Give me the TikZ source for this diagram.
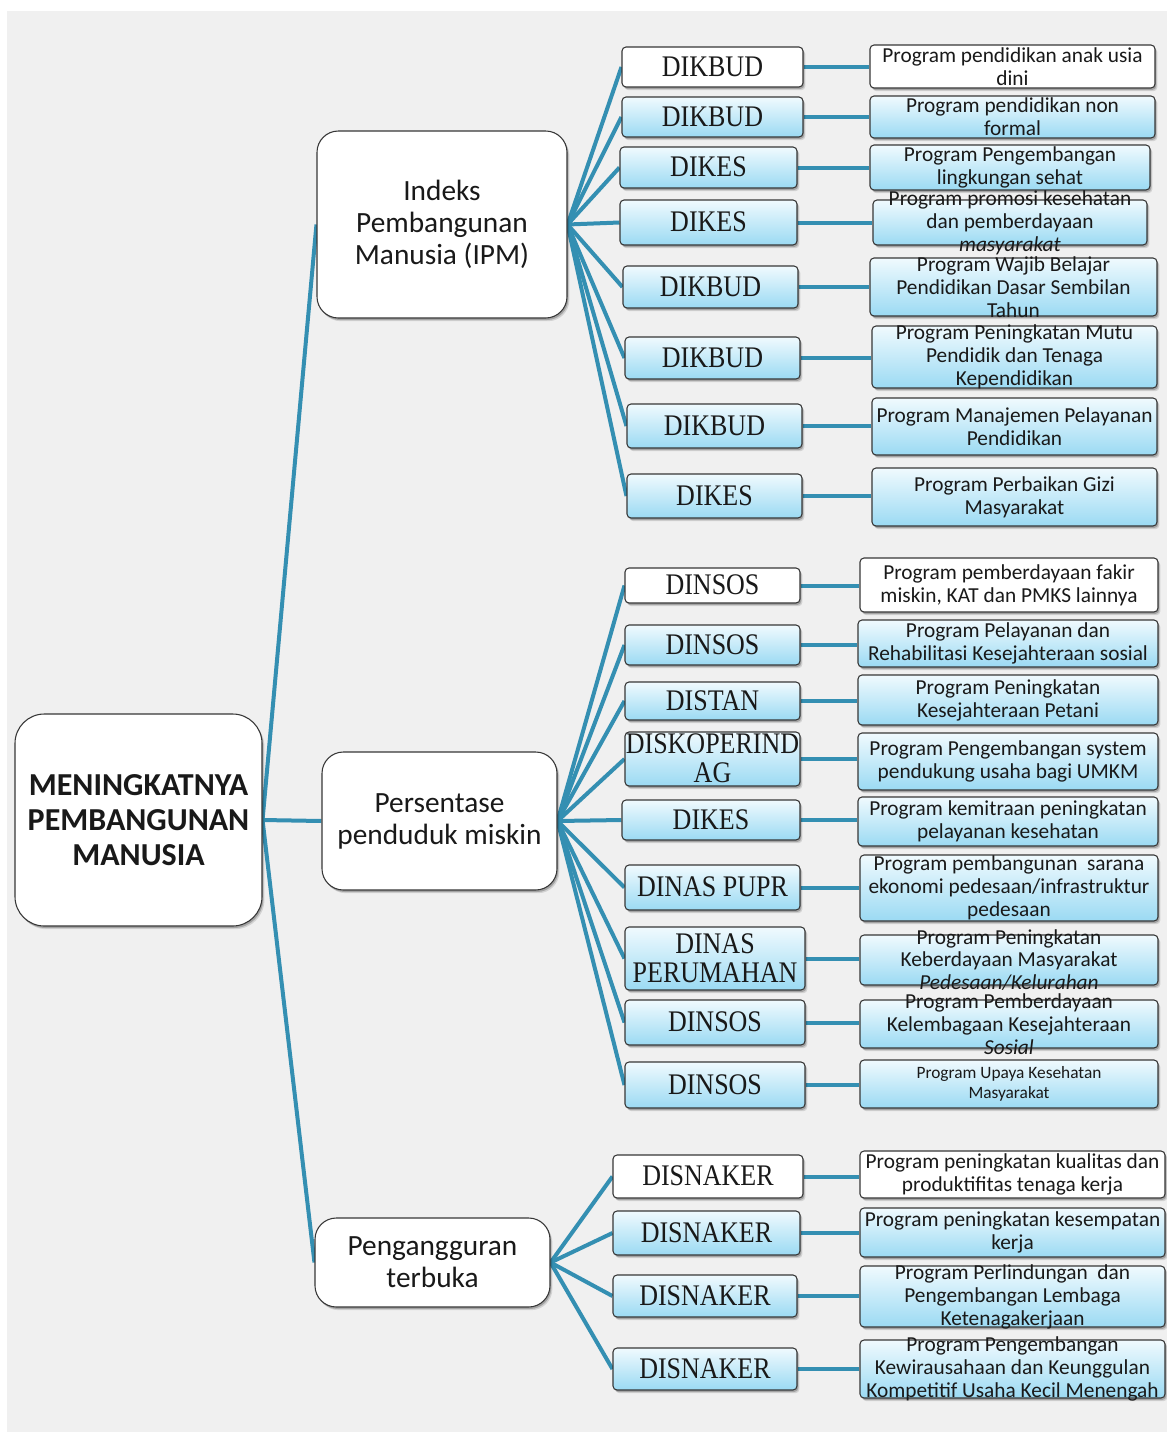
\documentclass[tikz,border=0pt]{standalone}
\usepackage{fontspec}
\usepackage{graphicx}
\setmainfont{Carlito}
\newfontfamily\agfont{Liberation Serif}
\usetikzlibrary{fit,shadows}

\definecolor{pagegray}{RGB}{240,240,240}
\definecolor{linkc}{RGB}{52,143,178}
\definecolor{edgec}{RGB}{55,55,55}
\definecolor{gtop}{RGB}{240,250,254}
\definecolor{gbot}{RGB}{155,218,243}
\definecolor{txtc}{RGB}{25,25,25}

% agency names are set in a slightly tall serif
\newcommand\ag[1]{\scalebox{1}[1.15]{\begin{tabular}{@{}c@{}}#1\end{tabular}}}

\pgfdeclarelayer{back}
\pgfdeclarelayer{links}
\pgfsetlayers{back,links,main}

\tikzset{
  conn/.style={draw=linkc, line width=3pt},
  boxbase/.style={draw=edgec, line width=0.8pt, inner sep=0pt,
    drop shadow={shadow xshift=1.8pt, shadow yshift=-2.4pt, opacity=0.12, fill=black},
    drop shadow={shadow xshift=1pt, shadow yshift=-1.5pt, opacity=0.22, fill=black}},
  bigbox/.style={boxbase, fill=white, rounded corners=16pt},
  mainbox/.style={boxbase, fill=white, rounded corners=22pt},
  bluebox/.style={boxbase, rounded corners=3pt, top color=gtop, bottom color=gbot},
  whitebox/.style={boxbase, rounded corners=3pt, fill=white},
  maintxt/.style={font=\bfseries\fontsize{24}{26}\selectfont, align=center, text=txtc},
  midtxt/.style={font=\fontsize{22}{24}\selectfont, align=center, text=txtc},
  agtxt/.style={font=\agfont\fontsize{19.5}{19}\selectfont, inner sep=0pt, yshift=-2.6pt, text=txtc},
  prtxt/.style={font=\fontsize{16}{17.2}\selectfont, align=center, text=txtc},
  smalltxt/.style={font=\fontsize{13}{15}\selectfont, align=center, text=txtc},
}

\begin{document}
\begin{tikzpicture}[x=0.75pt, y=-0.75pt]
\useasboundingbox (0,0) rectangle (1167,1439);
\begin{pgfonlayer}{back}
  \fill[white] (0,0) rectangle (1167,1439);
  \fill[pagegray] (7,11) rectangle (1167,1432);
\end{pgfonlayer}

% root and the three indicators
\node[mainbox, fit={(15,714)(262,926)},
  label={[maintxt]center:{MENINGKATNYA\\PEMBANGUNAN\\MANUSIA}}] (root) {};
\node[bigbox, fit={(317,131)(567,318)},
  label={[midtxt]center:{Indeks\\Pembangunan\\Manusia (IPM)}}] (ipm) {};
\node[bigbox, fit={(322,752)(557,890)},
  label={[midtxt]center:{Persentase\\penduduk miskin}}] (pers) {};
\node[bigbox, fit={(315,1218)(550,1307)},
  label={[midtxt]center:{Pengangguran\\terbuka}}] (peng) {};

% agencies under IPM
\node[whitebox, fit={(622,47)(803,87)},   label={[agtxt]center:\ag{DIKBUD}}] (a1) {};
\node[bluebox,  fit={(622,97)(803,137)},  label={[agtxt]center:\ag{DIKBUD}}] (a2) {};
\node[bluebox,  fit={(620,147)(797,188)}, label={[agtxt]center:\ag{DIKES}}] (a3) {};
\node[bluebox,  fit={(620,200)(797,245)}, label={[agtxt]center:\ag{DIKES}}] (a4) {};
\node[bluebox,  fit={(623,266)(798,308)}, label={[agtxt]center:\ag{DIKBUD}}] (a5) {};
\node[bluebox,  fit={(625,337)(800,379)}, label={[agtxt]center:\ag{DIKBUD}}] (a6) {};
\node[bluebox,  fit={(627,404)(802,448)}, label={[agtxt]center:\ag{DIKBUD}}] (a7) {};
\node[bluebox,  fit={(627,474)(802,518)}, label={[agtxt]center:\ag{DIKES}}] (a8) {};

% programmes under IPM
\node[whitebox, fit={(870,45)(1155,88)},
  label={[prtxt]center:{Program pendidikan anak usia\\dini}}] (p1) {};
\node[bluebox, fit={(870,96)(1155,138)},
  label={[prtxt]center:{Program pendidikan non\\formal}}] (p2) {};
\node[bluebox, fit={(870,145)(1150,190)},
  label={[prtxt]center:{Program Pengembangan\\lingkungan sehat}}] (p3) {};
\node[bluebox, fit={(873,200)(1147,245)},
  label={[prtxt]center:{Program promosi kesehatan\\dan pemberdayaan\\\textit{masyarakat}}}] (p4) {};
\node[bluebox, fit={(870,258)(1157,316)},
  label={[prtxt]center:{Program Wajib Belajar\\Pendidikan Dasar Sembilan\\Tahun}}] (p5) {};
\node[bluebox, fit={(872,326)(1157,388)},
  label={[prtxt]center:{Program Peningkatan Mutu\\Pendidik dan Tenaga\\Kependidikan}}] (p6) {};
\node[bluebox, fit={(872,398)(1157,455)},
  label={[prtxt]center:{Program Manajemen Pelayanan\\Pendidikan}}] (p7) {};
\node[bluebox, fit={(872,468)(1157,526)},
  label={[prtxt]center:{Program Perbaikan Gizi\\Masyarakat}}] (p8) {};

% agencies under poverty rate
\node[whitebox, fit={(625,568)(800,603)},  label={[agtxt]center:\ag{DINSOS}}] (b1) {};
\node[bluebox,  fit={(625,625)(800,665)},  label={[agtxt]center:\ag{DINSOS}}] (b2) {};
\node[bluebox,  fit={(625,682)(800,720)},  label={[agtxt]center:\ag{DISTAN}}] (b3) {};
\node[bluebox,  fit={(625,732)(800,786)},  label={[agtxt]center:\ag{DISKOPERIND\\AG}}] (b4) {};
\node[bluebox,  fit={(622,800)(800,840)},  label={[agtxt]center:\ag{DIKES}}] (b5) {};
\node[bluebox,  fit={(625,865)(800,910)},  label={[agtxt]center:\ag{DINAS PUPR}}] (b6) {};
\node[bluebox,  fit={(625,927)(805,990)},  label={[agtxt]center:\ag{DINAS\\PERUMAHAN}}] (b7) {};
\node[bluebox,  fit={(625,1000)(805,1045)},label={[agtxt]center:\ag{DINSOS}}] (b8) {};
\node[bluebox,  fit={(625,1062)(805,1108)},label={[agtxt]center:\ag{DINSOS}}] (b9) {};

% programmes under poverty rate
\node[whitebox, fit={(860,558)(1158,612)},
  label={[prtxt]center:{Program pemberdayaan fakir\\miskin, KAT dan PMKS lainnya}}] (q1) {};
\node[bluebox, fit={(858,620)(1158,667)},
  label={[prtxt]center:{Program Pelayanan dan\\Rehabilitasi Kesejahteraan sosial}}] (q2) {};
\node[bluebox, fit={(858,675)(1158,725)},
  label={[prtxt]center:{Program Peningkatan\\Kesejahteraan Petani}}] (q3) {};
\node[bluebox, fit={(858,733)(1158,790)},
  label={[prtxt]center:{Program Pengembangan system\\pendukung usaha bagi UMKM}}] (q4) {};
\node[bluebox, fit={(858,797)(1158,846)},
  label={[prtxt]center:{Program kemitraan peningkatan\\pelayanan kesehatan}}] (q5) {};
\node[bluebox, fit={(860,855)(1158,921)},
  label={[prtxt]center:{Program pembangunan\ \ sarana\\ekonomi pedesaan/infrastruktur\\pedesaan}}] (q6) {};
\node[bluebox, fit={(860,935)(1158,985)},
  label={[prtxt]center:{Program Peningkatan\\Keberdayaan Masyarakat\\\textit{Pedesaan/Kelurahan}}}] (q7) {};
\node[bluebox, fit={(860,1000)(1158,1048)},
  label={[prtxt]center:{Program Pemberdayaan\\Kelembagaan Kesejahteraan\\\textit{Sosial}}}] (q8) {};
\node[bluebox, fit={(860,1060)(1158,1108)},
  label={[smalltxt]center:{Program Upaya Kesehatan\\Masyarakat}}] (q9) {};

% agencies under open unemployment
\node[whitebox, fit={(613,1155)(803,1198)}, label={[agtxt]center:\ag{DISNAKER}}] (c1) {};
\node[bluebox,  fit={(613,1211)(800,1255)}, label={[agtxt]center:\ag{DISNAKER}}] (c2) {};
\node[bluebox,  fit={(613,1275)(797,1317)}, label={[agtxt]center:\ag{DISNAKER}}] (c3) {};
\node[bluebox,  fit={(613,1348)(797,1390)}, label={[agtxt]center:\ag{DISNAKER}}] (c4) {};

% programmes under open unemployment
\node[whitebox, fit={(860,1151)(1165,1198)},
  label={[prtxt]center:{Program peningkatan kualitas dan\\produktifitas tenaga kerja}}] (r1) {};
\node[bluebox, fit={(860,1208)(1165,1257)},
  label={[prtxt]center:{Program peningkatan kesempatan\\kerja}}] (r2) {};
\node[bluebox, fit={(860,1266)(1165,1327)},
  label={[prtxt]center:{Program Perlindungan\ \ dan\\Pengembangan Lembaga\\Ketenagakerjaan}}] (r3) {};
\node[bluebox, fit={(860,1340)(1165,1398)},
  label={[prtxt]center:{Program Pengembangan\\Kewirausahaan dan Keunggulan\\Kompetitif Usaha Kecil Menengah}}] (r4) {};

% connectors
\begin{pgfonlayer}{links}
  \foreach \k in {ipm,pers,peng}
    \draw[conn] (root.east) -- (\k.west);
  \foreach \a/\p in {a1/p1,a2/p2,a3/p3,a4/p4,a5/p5,a6/p6,a7/p7,a8/p8} {
    \draw[conn] (ipm.east) -- (\a.west);
    \draw[conn] (\a.east) -- (\a.east -| \p.west);
  }
  \foreach \a/\p in {b1/q1,b2/q2,b3/q3,b4/q4,b5/q5,b6/q6,b7/q7,b8/q8,b9/q9} {
    \draw[conn] (pers.east) -- (\a.west);
    \draw[conn] (\a.east) -- (\a.east -| \p.west);
  }
  \foreach \a/\p in {c1/r1,c2/r2,c3/r3,c4/r4} {
    \draw[conn] (peng.east) -- (\a.west);
    \draw[conn] (\a.east) -- (\a.east -| \p.west);
  }
\end{pgfonlayer}
\end{tikzpicture}
\end{document}
